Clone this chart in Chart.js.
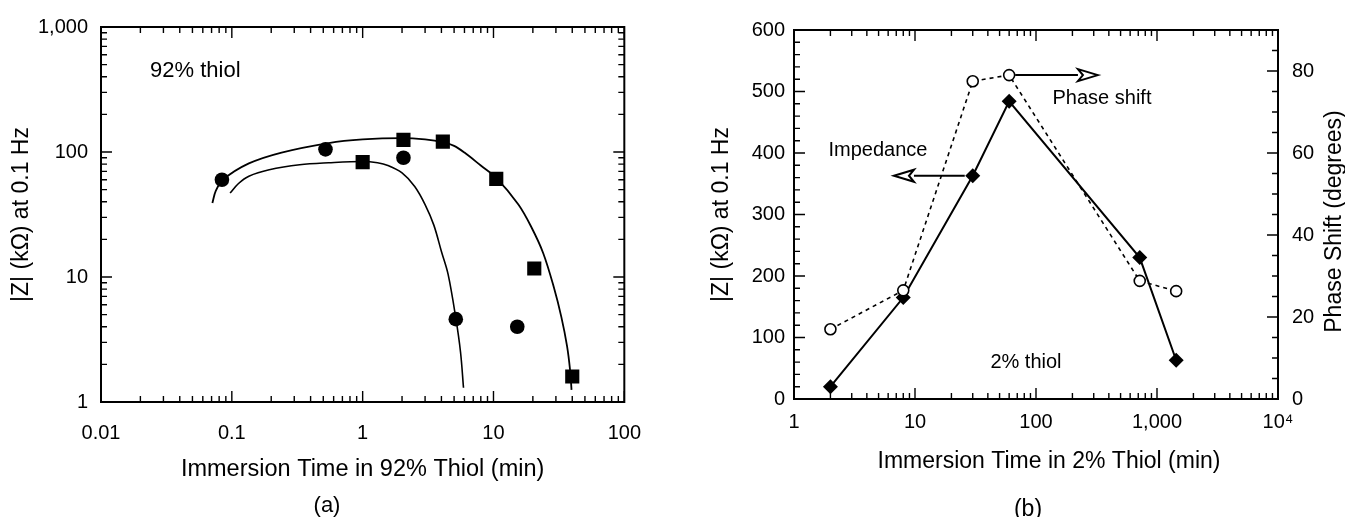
<!DOCTYPE html>
<html>
<head>
<meta charset="utf-8">
<script src="https://cdn.jsdelivr.net/npm/chart.js@4.4.1/dist/chart.umd.min.js"></script>
<style>
  html, body { margin: 0; padding: 0; background: #fff; }
  #wrap { position: relative; width: 1345px; height: 517px; }
  #ca { position: absolute; left: 0; top: 0; }
  #cb { position: absolute; left: 660px; top: 0; }
</style>
</head>
<body>
<div id="wrap">
  <canvas id="ca" width="660" height="517"></canvas>
  <canvas id="cb" width="685" height="517"></canvas>
</div>
<script>
// ---- (a) 92% thiol, log-log ----
const circA   = [[0.084, 60], [0.52, 105], [2.05, 90], [5.15, 4.6], [15.2, 4.0]];
const squareA = [[1.0, 83], [2.05, 125], [4.1, 121], [10.5, 61], [20.5, 11.7], [40, 1.6]];
// fitted curves
const fitOuterA = [[0.071, 39], [0.0755, 49], [0.0855, 60], [0.135, 81], [0.24, 99], [0.55, 118],
  [1.0, 126], [2.0, 129], [3.0, 126], [4.1, 120], [5.0, 112], [6.0, 99], [8.0, 78], [10.5, 62],
  [15.5, 38], [19.5, 25], [24, 15.5], [29, 8.2], [33, 4.8], [36.5, 2.8], [38.5, 1.8], [39.5, 1.25]];
const fitInnerA = [[0.097, 47], [0.1125, 56], [0.135, 64], [0.193, 72], [0.33, 79], [0.55, 82],
  [1.0, 84], [1.3, 82], [1.56, 78], [2.0, 68], [2.5, 53], [3.0, 38], [3.5, 26], [4.0, 16],
  [4.5, 10.5], [5.15, 4.7], [5.6, 2.5], [5.9, 1.3]];
const xTicksA  = [0.01, 0.1, 1, 10, 100];
const xLabelsA = ['0.01', '0.1', '1', '10', '100'];
const yTicksA  = [1, 10, 100, 1000];
const yLabelsA = ['1', '10', '100', '1,000'];

// ---- (b) 2% thiol ----
const timeB      = [2, 8, 30, 60, 720, 1440];
const impedanceB = [20, 165, 363, 484, 230, 63];
const phaseB     = [17, 26.5, 77.5, 79, 28.8, 26.3];
const xTicksB  = [1, 10, 100, 1000, 10000];
const xLabelsB = ['1', '10', '100', '1,000', '10⁴'];
const yTicksB  = [0, 100, 200, 300, 400, 500, 600];
const y1TicksB = [0, 20, 40, 60, 80];

const FONT = '"Liberation Sans", Arial, Helvetica, sans-serif';
Chart.defaults.font.family = FONT;
Chart.defaults.color = '#000';

const pts = arr => arr.map(([x, y]) => ({ x, y }));
const logMinors = majors => {
  const out = [];
  majors.slice(0, -1).forEach(d => { for (let k = 2; k <= 9; k++) out.push(k * d); });
  return out;
};
const steps = (from, to, step) => {
  const out = [];
  for (let v = from; v <= to + 1e-9; v += step) out.push(v);
  return out;
};

// frame + inward tick marks on all sides
function frameTicks(marks) {
  return {
    id: 'frameTicks',
    afterDatasetsDraw(chart) {
      const { ctx, chartArea: a, scales } = chart;
      ctx.save();
      ctx.strokeStyle = '#000';
      ctx.lineWidth = 1.4;
      ctx.beginPath();
      marks.forEach(m => {
        const s = scales[m.scale];
        const list = m.major.map(v => [v, 11]).concat(m.minor.map(v => [v, 6]));
        list.forEach(([v, len]) => {
          const p = s.getPixelForValue(v);
          m.edges.forEach(e => {
            if (e === 'bottom') { ctx.moveTo(p, a.bottom); ctx.lineTo(p, a.bottom - len); }
            if (e === 'top')    { ctx.moveTo(p, a.top);    ctx.lineTo(p, a.top + len); }
            if (e === 'left')   { ctx.moveTo(a.left, p);   ctx.lineTo(a.left + len, p); }
            if (e === 'right')  { ctx.moveTo(a.right, p);  ctx.lineTo(a.right - len, p); }
          });
        });
      });
      ctx.stroke();
      ctx.lineWidth = 2;
      ctx.strokeRect(a.left, a.top, a.right - a.left, a.bottom - a.top);
      ctx.restore();
    }
  };
}

function notes(draw) {
  return { id: 'notes', afterDraw(chart) { const c = chart.ctx; c.save(); draw(c, chart); c.restore(); } };
}

function arrow(ctx, x0, x1, y) {
  const dir = Math.sign(x1 - x0);
  const head = 20, half = 6;
  ctx.strokeStyle = '#000';
  ctx.lineWidth = 2;
  ctx.beginPath();
  ctx.moveTo(x0, y);
  ctx.lineTo(x1 - dir * head, y);
  ctx.stroke();
  ctx.beginPath();
  ctx.moveTo(x1, y);
  ctx.lineTo(x1 - dir * head, y - half);
  ctx.lineTo(x1 - dir * (head - 5), y);
  ctx.lineTo(x1 - dir * head, y + half);
  ctx.closePath();
  ctx.fillStyle = '#fff';
  ctx.fill();
  ctx.stroke();
}

// ---------- chart (a) ----------
new Chart(document.getElementById('ca'), {
  type: 'scatter',
  data: {
    datasets: [
      { data: pts(circA), pointStyle: 'circle', pointRadius: 7.3, pointBackgroundColor: '#000',
        pointBorderColor: '#000', pointBorderWidth: 0 },
      { data: pts(squareA), pointStyle: 'rect', pointRadius: 10, pointBackgroundColor: '#000',
        pointBorderColor: '#000', pointBorderWidth: 0 },
      { data: pts(fitOuterA), showLine: true, pointRadius: 0, borderColor: '#000', borderWidth: 1.8,
        tension: 0.35 },
      { data: pts(fitInnerA), showLine: true, pointRadius: 0, borderColor: '#000', borderWidth: 1.6,
        tension: 0.35 }
    ]
  },
  options: {
    responsive: false, animation: false, devicePixelRatio: 1,
    layout: { padding: { top: 27, right: 32, left: 0, bottom: 0 } },
    plugins: { legend: { display: false }, tooltip: { enabled: false } },
    scales: {
      x: {
        type: 'logarithmic', min: 0.01, max: 100,
        afterBuildTicks: s => { s.ticks = xTicksA.map(v => ({ value: v })); },
        afterFit: s => { s.height = 115; },
        grid: { display: false, drawTicks: false }, border: { display: false },
        ticks: { callback: (v, i) => xLabelsA[i], font: { size: 20 }, padding: 19, maxRotation: 0, autoSkip: false },
        title: { display: true, text: 'Immersion Time in 92% Thiol (min)', font: { size: 23.5 }, padding: { top: 0, bottom: 33 } }
      },
      y: {
        type: 'logarithmic', min: 1, max: 1000,
        afterBuildTicks: s => { s.ticks = yTicksA.map(v => ({ value: v })); },
        afterFit: s => { s.width = 101; },
        grid: { display: false, drawTicks: false }, border: { display: false },
        ticks: { callback: (v, i) => yLabelsA[i], font: { size: 20 }, padding: 13, autoSkip: false },
        title: { display: true, text: '|Z| (kΩ) at 0.1 Hz', font: { size: 23 }, padding: { top: 8, bottom: 0 } }
      }
    }
  },
  plugins: [
    frameTicks([
      { scale: 'x', major: xTicksA, minor: logMinors(xTicksA), edges: ['bottom', 'top'] },
      { scale: 'y', major: yTicksA, minor: logMinors(yTicksA), edges: ['left', 'right'] }
    ]),
    notes((ctx, chart) => {
      const { x, y } = chart.scales;
      ctx.fillStyle = '#000';
      ctx.textAlign = 'center';
      ctx.textBaseline = 'middle';
      ctx.font = '22px ' + FONT;
      ctx.fillText('92% thiol', x.getPixelForValue(0.0526), y.getPixelForValue(447));
      ctx.fillText('(a)', 327, 506);
    })
  ]
});

// ---------- chart (b) ----------
new Chart(document.getElementById('cb'), {
  type: 'scatter',
  data: {
    datasets: [
      { label: 'Phase shift', data: timeB.map((t, i) => ({ x: t, y: phaseB[i] })), yAxisID: 'y1',
        showLine: true, borderColor: '#000', borderWidth: 1.6, borderDash: [4, 4],
        pointStyle: 'circle', pointRadius: 5.5, pointBackgroundColor: '#fff',
        pointBorderColor: '#000', pointBorderWidth: 1.6 },
      { label: 'Impedance', data: timeB.map((t, i) => ({ x: t, y: impedanceB[i] })), yAxisID: 'y',
        showLine: true, borderColor: '#000', borderWidth: 2,
        pointStyle: 'rectRot', pointRadius: 7.5, pointBackgroundColor: '#000',
        pointBorderColor: '#000', pointBorderWidth: 0 }
    ]
  },
  options: {
    responsive: false, animation: false, devicePixelRatio: 1,
    layout: { padding: { top: 30, right: 0, left: 0, bottom: 0 } },
    plugins: { legend: { display: false }, tooltip: { enabled: false } },
    scales: {
      x: {
        type: 'logarithmic', min: 1, max: 10000,
        afterBuildTicks: s => { s.ticks = xTicksB.map(v => ({ value: v })); },
        afterFit: s => { s.height = 118; },
        grid: { display: false, drawTicks: false }, border: { display: false },
        ticks: { callback: (v, i) => xLabelsB[i], font: { size: 20 }, padding: 11, maxRotation: 0, autoSkip: false },
        title: { display: false }
      },
      y: {
        type: 'linear', position: 'left', min: 0, max: 600,
        afterBuildTicks: s => { s.ticks = yTicksB.map(v => ({ value: v })); },
        afterFit: s => { s.width = 134; },
        grid: { display: false, drawTicks: false }, border: { display: false },
        ticks: { font: { size: 20 }, padding: 9, autoSkip: false },
        title: { display: true, text: '|Z| (kΩ) at 0.1 Hz', font: { size: 23 }, padding: { top: 48, bottom: 0 } }
      },
      y1: {
        type: 'linear', position: 'right', min: 0, max: 90,
        afterBuildTicks: s => { s.ticks = y1TicksB.map(v => ({ value: v })); },
        afterFit: s => { s.width = 67; },
        grid: { display: false, drawTicks: false }, border: { display: false },
        ticks: { font: { size: 20 }, padding: 14, autoSkip: false }
      }
    }
  },
  plugins: [
    frameTicks([
      { scale: 'x', major: xTicksB, minor: logMinors(xTicksB), edges: ['bottom', 'top'] },
      { scale: 'y', major: yTicksB, minor: steps(0, 600, 20), edges: ['left'] },
      { scale: 'y1', major: y1TicksB, minor: steps(0, 90, 5), edges: ['right'] }
    ]),
    notes((ctx, chart) => {
      const { x, y, y1 } = chart.scales;
      const a = chart.chartArea;
      // arrows pointing to each series' axis
      arrow(ctx, x.getPixelForValue(30) - 8, x.getPixelForValue(6.7), y.getPixelForValue(363));
      arrow(ctx, x.getPixelForValue(60) + 6, x.getPixelForValue(325), y1.getPixelForValue(79));
      ctx.fillStyle = '#000';
      ctx.textAlign = 'center';
      ctx.textBaseline = 'middle';
      ctx.font = '20px ' + FONT;
      ctx.fillText('Impedance', x.getPixelForValue(4.94), y.getPixelForValue(404));
      ctx.fillText('Phase shift', x.getPixelForValue(351), y.getPixelForValue(488));
      ctx.fillText('2% thiol', x.getPixelForValue(82.6), y.getPixelForValue(60));
      ctx.font = '23px ' + FONT;
      ctx.fillText('Immersion Time in 2% Thiol (min)', (a.left + a.right) / 2 + 13, 462);
      ctx.fillText('(b)', 368, 510);
      // right-hand axis title, reading upward
      ctx.translate(chart.width - 10, (a.top + a.bottom) / 2 + 7);
      ctx.rotate(-Math.PI / 2);
      ctx.fillText('Phase Shift (degrees)', 0, 0);
    })
  ]
});
</script>
</body>
</html>
